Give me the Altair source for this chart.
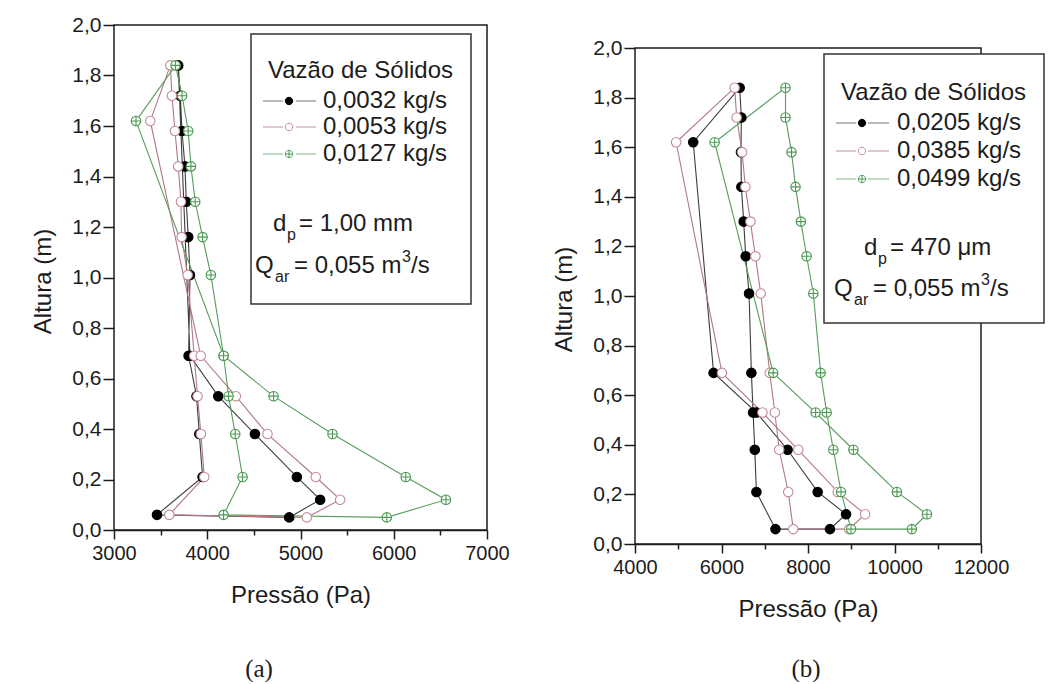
import altair as alt
import pandas as pd

# ---------------- data, panel (a) ----------------
A_SERIES = ["0,0032 kg/s", "0,0053 kg/s", "0,0127 kg/s"]
A_H_BLACK = [0.06, 0.21, 0.38, 0.53, 0.69, 1.01, 1.16, 1.30, 1.44, 1.58, 1.72, 1.84,
             0.69, 0.53, 0.38, 0.21, 0.12, 0.05]
A_P_BLACK = [3461, 3950, 3915, 3885, 3800, 3815, 3796, 3775, 3761, 3729, 3711, 3689,
             3815, 4118, 4511, 4961, 5211, 4879]
A_H_OTHER = [0.06, 0.21, 0.38, 0.53, 0.69, 1.01, 1.16, 1.30, 1.44, 1.58, 1.72, 1.84, 1.62,
             0.69, 0.53, 0.38, 0.21, 0.12, 0.05]
A_P_PINK = [3593, 3968, 3932, 3896, 3860, 3790, 3725, 3718, 3689, 3654, 3621, 3604, 3389,
            3930, 4307, 4646, 5164, 5425, 5068]
A_P_GREEN = [4175, 4379, 4300, 4229, 4175, 4039, 3950, 3871, 3825, 3796, 3730, 3660, 3236,
             4175, 4711, 5343, 6129, 6560, 5925]

# ---------------- data, panel (b) ----------------
B_SERIES = ["0,0205 kg/s", "0,0385 kg/s", "0,0499 kg/s"]
B_H = [0.06, 0.21, 0.38, 0.53, 0.69, 1.01, 1.16, 1.30, 1.44, 1.58, 1.72, 1.84, 1.62,
       0.69, 0.53, 0.38, 0.21, 0.12, 0.06]
B_P_BLACK = [7248, 6807, 6769, 6731, 6691, 6637, 6560, 6513, 6459, 6450, 6459, 6420, 5346,
             5817, 6810, 7527, 8223, 8880, 8508]
B_P_PINK = [7659, 7543, 7334, 7233, 7116, 6907, 6784, 6668, 6552, 6475, 6351, 6304, 4951,
            6011, 6947, 7775, 8687, 9321, 8950]
B_P_GREEN = [8995, 8763, 8586, 8431, 8292, 8123, 7968, 7835, 7712, 7619, 7480, 7480, 5841,
             7195, 8176, 9050, 10056, 10750, 10400]

# ---------------- ticks / texts ----------------
A_XTICKS = [3000, 3500, 4000, 4500, 5000, 5500, 6000, 6500, 7000]
B_XTICKS = [4000, 5000, 6000, 7000, 8000, 9000, 10000, 11000, 12000]
Y_TICKS = [0.0, 0.1, 0.2, 0.3, 0.4, 0.5, 0.6, 0.7, 0.8, 0.9, 1.0,
           1.1, 1.2, 1.3, 1.4, 1.5, 1.6, 1.7, 1.8, 1.9, 2.0]
LEGEND_TITLE = "Vazão de Sólidos"
X_TITLE = "Pressão (Pa)"
Y_TITLE = "Altura (m)"
A_DP = "= 1,00 mm"
B_DP = "= 470 μm"
Q_TXT = "= 0,055 m"

# ---------------- styles ----------------
SANS = "Liberation Sans"
SERIF = "Liberation Serif"
INK = "#1c1c1c"
LINE_COLORS = ["#3c3c3c", "#b07884", "#579c5c"]
MARK_STROKE = ["#000000", "#c48b95", "#4c9a52"]
MARK_FILL = ["#000000", "#ffffff", "#ffffff"]
LEG_SEG = ["#8a8a8a", "#c9a1a9", "#93c296"]
CIRC = "M-1,0A1,1 0 1,1 1,0A1,1 0 1,1 -1,0Z"
CIRC_PLUS = CIRC + " M-1,0L1,0 M0,-1L0,1"
SHAPES = [CIRC, CIRC, CIRC_PLUS]
LEG_FS = 24
SUB_FS = 16

ONE = pd.DataFrame({"k": [0]})


def build_df(series, hs, ps, close):
    rows = []
    for name, h, p in zip(series, hs, ps):
        for i, (hh, pp) in enumerate(zip(h, p)):
            rows.append({"serie": name, "h": hh, "p": pp, "ord": i})
        if close:
            rows.append({"serie": name, "h": h[0], "p": p[0], "ord": len(h)})
    return pd.DataFrame(rows)


def txt(s, x, y, size=LEG_FS, align="left", font=SANS):
    return alt.Chart(ONE).mark_text(
        text=s, align=align, baseline="middle", font=font, fontSize=size, color=INK
    ).encode(x=alt.value(x), y=alt.value(y))


def legend_layers(series, box, title_xy, entry_ys, seg1, mark_x, seg2, text_x,
                  dp_xy, dp_txt, q_xy):
    x0, x1, y0, y1 = box
    layers = [
        alt.Chart(ONE).mark_rect(fill="white", stroke="#333333", strokeWidth=1.5).encode(
            x=alt.value(x0), x2=alt.value(x1), y=alt.value(y0), y2=alt.value(y1)),
        txt(LEGEND_TITLE, title_xy[0], title_xy[1]),
    ]
    for i, (name, yy) in enumerate(zip(series, entry_ys)):
        for a, b in (seg1, seg2):
            layers.append(alt.Chart(ONE).mark_rule(color=LEG_SEG[i], strokeWidth=1.2).encode(
                x=alt.value(a), x2=alt.value(b), y=alt.value(yy)))
        layers.append(alt.Chart(ONE).mark_point(
            shape=SHAPES[i], size=55, filled=True, fill=MARK_FILL[i], stroke=MARK_STROKE[i],
            strokeWidth=1, opacity=1).encode(x=alt.value(mark_x), y=alt.value(yy)))
        layers.append(txt(name, text_x, yy))
    dx, dy = dp_xy
    layers += [txt("d", dx, dy), txt("p", dx + 14, dy + 11, size=SUB_FS),
               txt(dp_txt, dx + 26, dy)]
    qx, qy = q_xy
    layers += [txt("Q", qx, qy), txt("ar", qx + 20, qy + 11, size=SUB_FS),
               txt(Q_TXT, qx + 39, qy), txt("3", qx + 147, qy - 9, size=SUB_FS),
               txt("/s", qx + 156, qy)]
    return layers


def make_panel(series, hs, ps, xdom, xticks, major, width, height, ytop,
               ytitle_y, legend, caption, caption_xy, anchor=False):
    line_df = build_df(series, hs, ps, True)
    pt_df = build_df(series, hs, ps, False)

    xaxis = alt.Axis(
        values=xticks, format="d", labelExpr=f"datum.value % {major} == 0 ? datum.label : ''",
        tickSize={"condition": {"test": f"datum.value % {major} == 0", "value": 9}, "value": 5},
        tickColor=INK, tickWidth=1.5, domainColor=INK, domainWidth=1.5, grid=False,
        labelFont=SANS, labelFontSize=20, labelColor=INK, labelPadding=4,
        labelOverlap=False, labelFlush=False, labelBound=False,
        title=X_TITLE, titleFont=SANS, titleFontSize=24, titleFontWeight="normal",
        titleColor=INK, titleY=65, titleBaseline="middle")
    yaxis = alt.Axis(
        values=Y_TICKS, domain=False,
        labelExpr="round(datum.value*10) % 2 == 0 ? replace(format(datum.value, '.1f'), '.', ',') : ''",
        tickSize={"condition": {"test": "round(datum.value*10) % 2 == 0", "value": 11}, "value": 6},
        tickColor=INK, tickWidth=1.5, grid=False,
        labelFont=SANS, labelFontSize=21, labelColor=INK, labelPadding=2,
        labelOverlap=False, labelFlush=False, labelBound=False,
        title=Y_TITLE, titleFont=SANS, titleFontSize=24, titleFontWeight="normal",
        titleColor=INK, titleX=-71, titleY=ytitle_y, titleBaseline="middle", titleAngle=270)

    xs = alt.Scale(domain=xdom, nice=False, zero=False)
    ys = alt.Scale(domain=[0, ytop], nice=False, zero=False)
    X = alt.X("p:Q", scale=xs, axis=xaxis)
    Y = alt.Y("h:Q", scale=ys, axis=yaxis)

    lines = alt.Chart(line_df).mark_line(strokeWidth=1.1).encode(
        x=X, y=Y, order=alt.Order("ord:Q"),
        color=alt.Color("serie:N", scale=alt.Scale(domain=series, range=LINE_COLORS), legend=None))
    points = alt.Chart(pt_df).mark_point(size=90, filled=True, strokeWidth=1.1, opacity=1).encode(
        x=X, y=Y,
        shape=alt.Shape("serie:N", scale=alt.Scale(domain=series, range=SHAPES), legend=None),
        fill=alt.Fill("serie:N", scale=alt.Scale(domain=series, range=MARK_FILL), legend=None),
        stroke=alt.Stroke("serie:N", scale=alt.Scale(domain=series, range=MARK_STROKE), legend=None),
        order=alt.Order("serie:N"))
    frame = alt.Chart(ONE).mark_rect(
        fill="white", fillOpacity=0, stroke=INK, strokeWidth=1.5
    ).encode(x=alt.datum(xdom[0]), x2=alt.datum(xdom[1]),
             y=alt.datum(0.0), y2=alt.datum(2.0))

    layers = [frame, lines, points] + legend_layers(series, **legend)
    layers.append(txt(caption, caption_xy[0], caption_xy[1], size=25, align="center", font=SERIF))
    if anchor:
        layers.append(alt.Chart(ONE).mark_point(opacity=0, size=1).encode(
            x=alt.value(-113), y=alt.value(-24)))
    return alt.layer(*layers).properties(width=width, height=height)


left = make_panel(
    A_SERIES, [A_H_BLACK, A_H_OTHER, A_H_OTHER], [A_P_BLACK, A_P_PINK, A_P_GREEN],
    [3000, 7000], A_XTICKS, 1000, 373, 505, 2.0, 256,
    dict(box=(137, 357, 9, 279), title_xy=(154, 46), entry_ys=[76, 102, 129],
         seg1=(149, 169), mark_x=175, seg2=(182, 202), text_x=209,
         dp_xy=(159, 199), dp_txt=A_DP, q_xy=(141, 241)),
    "(a)", (145, 644), anchor=True)

right = make_panel(
    B_SERIES, [B_H, B_H, B_H], [B_P_BLACK, B_P_PINK, B_P_GREEN],
    [4000, 12000], B_XTICKS, 2000, 346, 519, 2.0 + 23 / 248, 274,
    dict(box=(189, 409, 29, 298), title_xy=(206, 68), entry_ys=[98, 126, 154],
         seg1=(201, 221), mark_x=227, seg2=(233, 254), text_x=262,
         dp_xy=(229, 223), dp_txt=B_DP, q_xy=(199, 264)),
    "(b)", (171, 644))

chart = alt.hconcat(left, right, spacing=148, bounds="flush").resolve_scale(
    x="independent", y="independent", color="independent", fill="independent",
    stroke="independent", shape="independent"
).properties(padding=0, background="white").configure_view(stroke=None)

chart.save("out.html", embed_options={"renderer": "svg", "actions": False})
